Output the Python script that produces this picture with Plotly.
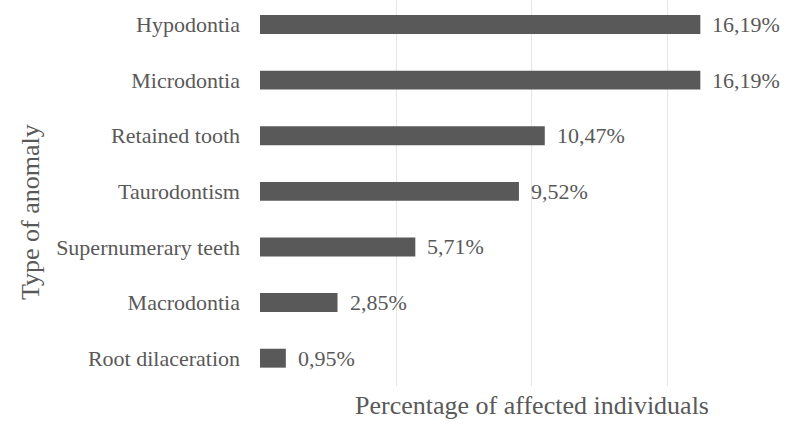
import plotly.graph_objects as go

categories = ["Hypodontia", "Microdontia", "Retained tooth", "Taurodontism",
              "Supernumerary teeth", "Macrodontia", "Root dilaceration"]
values = [16.19, 16.19, 10.47, 9.52, 5.71, 2.85, 0.95]
labels = [f"{v:.2f}".replace(".", ",") + "%" for v in values]

FONT = "Liberation Serif, Times New Roman, serif"
GREY = "#595959"

fig = go.Figure(go.Bar(
    x=values, y=categories, orientation="h",
    marker=dict(color=GREY, line=dict(width=0)),
    hoverinfo="skip",
))

for c, v, t in zip(categories, values, labels):
    fig.add_annotation(x=v, y=c, text=t, showarrow=False, xanchor="left",
                       yanchor="middle", xshift=10,
                       font=dict(family=FONT, size=22, color=GREY))

fig.add_annotation(text="Percentage of affected individuals", xref="paper", yref="paper",
                   x=(532 - 260) / 538, y=(386 - 405) / 386, showarrow=False,
                   xanchor="center", yanchor="middle",
                   font=dict(family=FONT, size=26, color=GREY))
fig.add_annotation(text="Type of anomaly", xref="paper", yref="paper",
                   x=(31 - 260) / 538, y=(386 - 212) / 386, showarrow=False,
                   textangle=-90, xanchor="center", yanchor="middle",
                   font=dict(family=FONT, size=26, color=GREY))

fig.update_layout(
    width=798, height=439,
    margin=dict(l=260, r=0, t=0, b=53),
    paper_bgcolor="white", plot_bgcolor="white",
    bargap=0.66, showlegend=False,
    font=dict(family=FONT, color=GREY),
    xaxis=dict(range=[0, 19.78], dtick=5, showticklabels=False, showgrid=True,
               gridcolor="#e6e6e6", gridwidth=1, zeroline=False, showline=False,
               ticks="", automargin=False),
    yaxis=dict(range=[6.5, -0.44], type="category", showgrid=False, zeroline=False,
               showline=False, ticks="", ticklabelstandoff=19, automargin=False,
               tickfont=dict(family=FONT, size=22, color=GREY)),
)

fig.write_html("out.html", config={"displayModeBar": False},
               post_script="document.body.style.margin='0px';")
